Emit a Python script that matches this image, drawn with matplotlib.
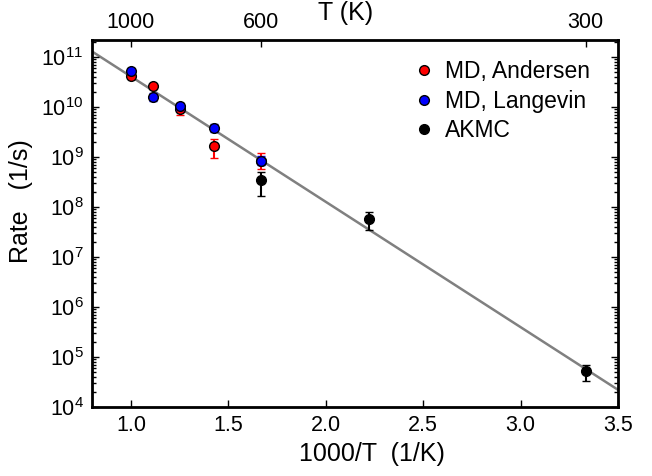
import numpy as np
import matplotlib.pyplot as plt
from matplotlib.lines import Line2D

plt.rcParams["font.family"] = ["Liberation Sans", "DejaVu Sans"]
plt.rcParams["mathtext.fontset"] = "custom"
plt.rcParams["mathtext.rm"] = "Liberation Sans"
plt.rcParams["mathtext.it"] = "Liberation Sans"

# MD, Andersen thermostat
and_x = [1.0, 1.111, 1.25, 1.4286, 1.667]
and_y = [4.2e10, 2.6e10, 9.1e9, 1.63e9, 8.5e8]
and_lo = [3.8e10, 2.3e10, 6.8e9, 0.98e9, 5.9e8]
and_hi = [4.6e10, 2.9e10, 1.2e10, 2.3e9, 1.2e9]

# MD, Langevin thermostat
lan_x = [1.0, 1.111, 1.25, 1.4286, 1.667]
lan_y = [5.3e10, 1.6e10, 1.03e10, 3.8e9, 8.5e8]
lan_lo = [4.6e10, 1.3e10, 8.8e9, 3.2e9, 7.0e8]
lan_hi = [6.1e10, 1.95e10, 1.2e10, 4.6e9, 1.03e9]

# AKMC
akmc_x = [1.667, 2.222, 3.333]
akmc_y = [3.4e8, 5.8e7, 5.2e4]
akmc_lo = [1.7e8, 3.4e7, 3.3e4]
akmc_hi = [5.0e8, 8.1e7, 7.0e4]

# Arrhenius fit line (end points)
fit_x = [0.8, 3.5]
fit_y = [1.3e11, 2.2e4]

# top axis temperatures
top_T = [1000, 600, 300]


def yerr(y, lo, hi):
    y = np.array(y)
    return [y - np.array(lo), np.array(hi) - y]


def main():
    fig = plt.figure(figsize=(6.52, 4.76), dpi=100)
    ax = fig.add_axes([0.141, 0.145, 0.807, 0.771])

    ax.plot(fit_x, fit_y, color="#808080", lw=1.8, zorder=1)

    common = dict(fmt="o", ms=7, mec="black", mew=1.0, capsize=3,
                  elinewidth=1.5, capthick=1.5)
    ax.errorbar(and_x, and_y, yerr=yerr(and_y, and_lo, and_hi), mfc="red",
                ecolor="red", zorder=3, **common)
    ax.errorbar(akmc_x, akmc_y, yerr=yerr(akmc_y, akmc_lo, akmc_hi),
                mfc="black", ecolor="black", zorder=4, **common)
    ax.errorbar(lan_x, lan_y, yerr=yerr(lan_y, lan_lo, lan_hi), mfc="blue",
                ecolor="blue", zorder=5, **common)

    ax.set_yscale("log")
    ax.set_xlim(0.8, 3.5)
    ax.set_ylim(1e4, 2.2e11)
    ax.set_xticks([1.0, 1.5, 2.0, 2.5, 3.0, 3.5])
    ax.set_xlabel("1000/T  (1/K)", fontsize=18)
    ax.set_ylabel("Rate   (1/s)", fontsize=18)
    ax.xaxis.set_label_coords(0.532, -0.095)
    ax.yaxis.set_label_coords(-0.112, 0.56)
    ax.tick_params(which="both", direction="in", right=True, labelsize=15.5)
    ax.tick_params(which="major", length=5, width=1, pad=6)
    ax.tick_params(which="minor", length=3, width=1)
    ax.tick_params(axis="x", which="both", top=False)
    for s in ax.spines.values():
        s.set_linewidth(2)

    top = ax.twiny()
    top.set_xlim(ax.get_xlim())
    top.set_xticks([1000.0 / t for t in top_T])
    top.set_xticklabels([str(t) for t in top_T])
    top.tick_params(direction="in", length=5, width=1, labelsize=15.5, pad=5)
    fig.text(346 / 652, 1 - 13 / 476, "T (K)", fontsize=18,
             ha="center", va="center")

    handles = [
        Line2D([], [], ls="", marker="o", ms=7, mfc="red", mec="black"),
        Line2D([], [], ls="", marker="o", ms=7, mfc="blue", mec="black"),
        Line2D([], [], ls="", marker="o", ms=7, mfc="black", mec="black"),
    ]
    ax.legend(handles, ["MD, Andersen", "MD, Langevin", "AKMC"],
              loc="upper left", bbox_to_anchor=(0.578, 0.982), frameon=False,
              fontsize=16.5, handletextpad=0.35, labelspacing=0.28,
              handlelength=1.2, borderaxespad=0.2)

    fig.savefig("out.png", dpi=100)


if __name__ == "__main__":
    main()
